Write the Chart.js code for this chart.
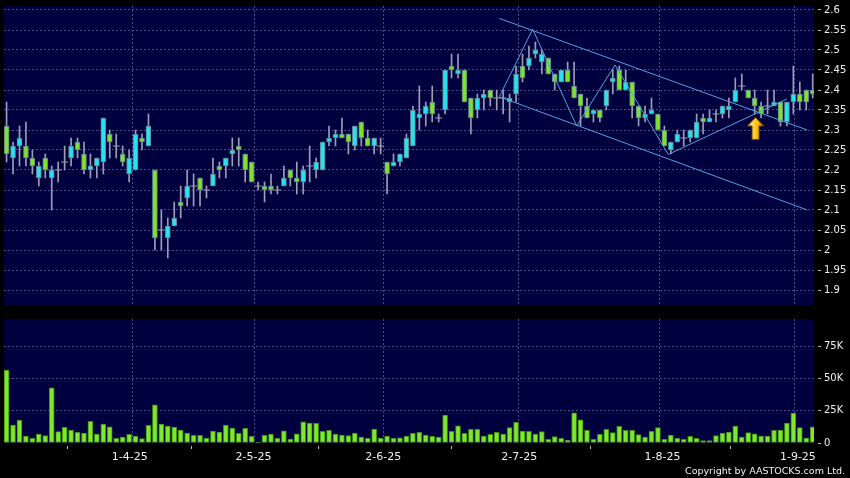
<!DOCTYPE html>
<html>
<head>
<meta charset="utf-8">
<title>Candlestick chart</title>
<script src="https://cdn.jsdelivr.net/npm/chart.js@4.4.1/dist/chart.umd.min.js"></script>
<style>
  html, body { margin: 0; padding: 0; background: #000; }
  #wrap { position: relative; width: 850px; height: 478px; overflow: hidden; background: #000; }
  #priceChart { position: absolute; left: 0; top: 0; }
  #volumeChart { position: absolute; left: 0; top: 310px; }
  #copy { position: absolute; right: 5px; top: 465px; font: 9.5px "DejaVu Sans"; color: #f0f0f0; white-space: nowrap; }
</style>
</head>
<body>
<div id="wrap">
  <canvas id="priceChart" width="850" height="310"></canvas>
  <canvas id="volumeChart" width="850" height="168"></canvas>
  <div id="copy">Copyright by AASTOCKS.com Ltd.</div>
</div>
<script>
// daily candles (126 sessions, Mar - early Sep 2025)
const opens = [
  2.31, 2.23, 2.26, 2.26, 2.23, 2.18, 2.23, 2.18, 2.20, 2.22,
  2.23, 2.27, 2.24, 2.20, 2.21, 2.22, 2.29, 2.26, 2.24, 2.19,
  2.20, 2.28, 2.26, 2.20, 2.05, 2.03, 2.06, 2.12, 2.13, 2.16,
  2.18, 2.15, 2.16, 2.21, 2.21, 2.24, 2.26, 2.24, 2.22, 2.16,
  2.16, 2.16, 2.15, 2.16, 2.20, 2.18, 2.17, 2.21, 2.20, 2.20,
  2.27, 2.28, 2.29, 2.29, 2.26, 2.32, 2.28, 2.26, 2.26, 2.22,
  2.21, 2.22, 2.23, 2.26, 2.33, 2.34, 2.37, 2.33, 2.35, 2.46,
  2.44, 2.45, 2.38, 2.35, 2.38, 2.40, 2.38, 2.38, 2.37, 2.39,
  2.46, 2.46, 2.49, 2.47, 2.48, 2.44, 2.42, 2.45, 2.41, 2.39,
  2.36, 2.34, 2.35, 2.36, 2.42, 2.45, 2.40, 2.42, 2.36, 2.33,
  2.34, 2.34, 2.30, 2.25, 2.27, 2.28, 2.28, 2.28, 2.33, 2.32,
  2.34, 2.34, 2.35, 2.37, 2.41, 2.40, 2.38, 2.36, 2.36, 2.36,
  2.37, 2.32, 2.37, 2.39, 2.40, 2.40
];
const highs = [
  2.37, 2.27, 2.31, 2.32, 2.25, 2.22, 2.24, 2.21, 2.22, 2.26,
  2.28, 2.28, 2.27, 2.24, 2.23, 2.33, 2.30, 2.29, 2.26, 2.25,
  2.30, 2.29, 2.34, 2.20, 2.10, 2.08, 2.12, 2.16, 2.20, 2.19,
  2.18, 2.16, 2.23, 2.22, 2.23, 2.28, 2.28, 2.24, 2.22, 2.17,
  2.17, 2.19, 2.16, 2.21, 2.20, 2.22, 2.21, 2.26, 2.23, 2.27,
  2.31, 2.30, 2.33, 2.29, 2.31, 2.32, 2.30, 2.28, 2.28, 2.22,
  2.24, 2.24, 2.29, 2.36, 2.41, 2.37, 2.41, 2.34, 2.45, 2.49,
  2.49, 2.45, 2.38, 2.39, 2.40, 2.40, 2.40, 2.40, 2.39, 2.46,
  2.49, 2.51, 2.52, 2.50, 2.48, 2.44, 2.45, 2.47, 2.47, 2.39,
  2.38, 2.35, 2.35, 2.40, 2.45, 2.46, 2.45, 2.42, 2.36, 2.36,
  2.38, 2.34, 2.31, 2.27, 2.30, 2.30, 2.30, 2.34, 2.34, 2.35,
  2.35, 2.36, 2.38, 2.43, 2.44, 2.40, 2.40, 2.37, 2.40, 2.40,
  2.37, 2.37, 2.46, 2.42, 2.40, 2.44
];
const lows = [
  2.22, 2.19, 2.21, 2.21, 2.19, 2.16, 2.18, 2.10, 2.17, 2.20,
  2.21, 2.23, 2.19, 2.18, 2.18, 2.19, 2.23, 2.23, 2.21, 2.17,
  2.20, 2.25, 2.26, 2.00, 2.00, 1.98, 2.06, 2.08, 2.11, 2.11,
  2.11, 2.13, 2.16, 2.18, 2.18, 2.21, 2.21, 2.17, 2.17, 2.15,
  2.12, 2.14, 2.14, 2.16, 2.16, 2.14, 2.14, 2.17, 2.18, 2.20,
  2.26, 2.26, 2.28, 2.24, 2.25, 2.26, 2.26, 2.24, 2.24, 2.14,
  2.21, 2.21, 2.23, 2.26, 2.30, 2.31, 2.32, 2.32, 2.34, 2.43,
  2.43, 2.37, 2.29, 2.33, 2.35, 2.36, 2.35, 2.34, 2.32, 2.37,
  2.42, 2.45, 2.48, 2.44, 2.44, 2.40, 2.42, 2.42, 2.38, 2.31,
  2.33, 2.32, 2.32, 2.35, 2.39, 2.40, 2.40, 2.33, 2.31, 2.32,
  2.34, 2.30, 2.26, 2.24, 2.27, 2.26, 2.27, 2.28, 2.29, 2.32,
  2.32, 2.33, 2.33, 2.37, 2.40, 2.38, 2.34, 2.33, 2.34, 2.36,
  2.31, 2.31, 2.34, 2.35, 2.35, 2.38
];
const closes = [
  2.24, 2.26, 2.28, 2.23, 2.21, 2.21, 2.20, 2.20, 2.20, 2.22,
  2.26, 2.25, 2.20, 2.21, 2.23, 2.33, 2.27, 2.26, 2.22, 2.23,
  2.29, 2.27, 2.31, 2.03, 2.05, 2.06, 2.08, 2.11, 2.16, 2.16,
  2.15, 2.15, 2.19, 2.20, 2.23, 2.25, 2.25, 2.20, 2.17, 2.16,
  2.15, 2.15, 2.15, 2.18, 2.18, 2.17, 2.20, 2.21, 2.22, 2.27,
  2.28, 2.29, 2.28, 2.27, 2.31, 2.28, 2.26, 2.28, 2.26, 2.19,
  2.22, 2.24, 2.28, 2.35, 2.34, 2.36, 2.34, 2.33, 2.45, 2.45,
  2.45, 2.37, 2.33, 2.38, 2.39, 2.38, 2.38, 2.38, 2.38, 2.44,
  2.43, 2.48, 2.50, 2.49, 2.44, 2.42, 2.45, 2.42, 2.38, 2.36,
  2.33, 2.35, 2.33, 2.40, 2.43, 2.40, 2.42, 2.36, 2.33, 2.34,
  2.35, 2.30, 2.26, 2.27, 2.29, 2.28, 2.30, 2.32, 2.32, 2.33,
  2.34, 2.36, 2.36, 2.40, 2.41, 2.38, 2.36, 2.34, 2.36, 2.37,
  2.32, 2.37, 2.39, 2.37, 2.37, 2.39
];
const volumes = [
  56500, 13900, 17800, 5400, 3600, 7000, 5700, 42800, 8800, 12100,
  10000, 8300, 7700, 16800, 7000, 14700, 12600, 3600, 4600, 6700,
  5400, 3400, 13700, 29700, 14700, 13200, 12400, 10000, 7700, 5900,
  5900, 3900, 9300, 8500, 13900, 11600, 7500, 11400, 5200, 800,
  5900, 7000, 3600, 9500, 3100, 7200, 16500, 15500, 15200, 9000,
  9800, 7000, 6200, 5700, 7700, 4600, 3600, 10800, 3900, 5400,
  3600, 4100, 5400, 7500, 8300, 6200, 5200, 4600, 21700, 9000,
  13400, 7500, 10600, 10600, 5400, 6700, 8300, 7000, 11900, 16000,
  9300, 9000, 7000, 8800, 2800, 4900, 3600, 2300, 23500, 18000,
  9800, 2800, 6700, 10600, 8000, 12900, 9800, 9800, 6500, 4600,
  9000, 11900, 2800, 6200, 3600, 2800, 5200, 3600, 1800, 1800,
  5700, 7700, 8500, 13200, 4600, 8000, 7200, 5400, 5400, 9800,
  10000, 15500, 23200, 11900, 3900, 12600
];

// month marks on the session axis
const monthLabels = ['1-4-25', '2-5-25', '2-6-25', '2-7-25', '1-8-25', '1-9-25'];
const monthLabelPos = [20.1, 39.3, 59.4, 80.5, 102.7, 123.7];
const monthGridPos = [20.5, 39.4, 59.4, 80.4, 102.2, 123.1];
const priceTicks = [1.9, 1.95, 2, 2.05, 2.1, 2.15, 2.2, 2.25, 2.3, 2.35, 2.4, 2.45, 2.5, 2.55, 2.6];
const volumeTicks = [0, 25000, 50000, 75000];

// trend lines drawn on the chart (session index, price)
const upperChannel = [{x: 77.4, y: 2.579}, {x: 125.16, y: 2.30}];
const lowerChannel = [{x: 77.4, y: 2.383}, {x: 125.16, y: 2.10}];
const zigzag = [
  {x: 77.4, y: 2.383}, {x: 82.58, y: 2.552}, {x: 89.4, y: 2.31},
  {x: 95.35, y: 2.4625}, {x: 103.6, y: 2.239}, {x: 122.0, y: 2.3775}
];
const arrowMark = [{x: 117.13, y: 2.304}];

const X_MIN = 0.6, X_MAX = 126.2;
const UP = '#27e3f0', DOWN = '#7ee32a', WICK = '#9d9db4';
const GRID = '#4b4b85', LINE = '#4aa6e2', TEXT = '#f0f0f0';

const plotBg = {
  id: 'plotBg',
  beforeDraw(chart) {
    const { ctx, chartArea: a } = chart;
    ctx.save();
    ctx.fillStyle = '#00003f';
    ctx.fillRect(a.left, a.top, a.right - a.left, a.bottom - a.top);
    ctx.restore();
  }
};

// yellow up arrow used as a point style
function makeArrow() {
  const c = document.createElement('canvas');
  c.width = 17; c.height = 23;
  const g = c.getContext('2d');
  const grad = g.createLinearGradient(0, 0, 17, 0);
  grad.addColorStop(0, '#fff3a8');
  grad.addColorStop(0.5, '#ffc81e');
  grad.addColorStop(1, '#d08a00');
  g.beginPath();
  g.moveTo(8.5, 0.5);
  g.lineTo(16.5, 9);
  g.lineTo(12, 9);
  g.lineTo(12, 22.5);
  g.lineTo(5, 22.5);
  g.lineTo(5, 9);
  g.lineTo(0.5, 9);
  g.closePath();
  g.fillStyle = grad;
  g.fill();
  g.strokeStyle = '#7a4d00';
  g.lineWidth = 1;
  g.stroke();
  return c;
}

const wickData = [], bodyData = [], bodyColors = [], dojiData = [];
opens.forEach((o, i) => {
  const c = closes[i];
  wickData.push({ x: i + 1, y: [lows[i], highs[i]] });
  if (o === c) {
    dojiData.push({ x: i + 1, y: c });
  } else {
    bodyData.push({ x: i + 1, y: [o, c] });
    bodyColors.push(c > o ? UP : DOWN);
  }
});

// right-hand axes: fixed width, no extra room for half labels
function fixWidth(scale) {
  scale.width = 36;
  scale.paddingTop = 0;
  scale.paddingBottom = 0;
}
function noHeight(scale) {
  scale.height = 0;
  scale.paddingLeft = 0;
  scale.paddingRight = 0;
}

new Chart(document.getElementById('priceChart'), {
  type: 'bar',
  data: {
    datasets: [
      { type: 'line', data: upperChannel, borderColor: LINE, borderWidth: 1, pointRadius: 0, order: 0 },
      { type: 'line', data: lowerChannel, borderColor: LINE, borderWidth: 1, pointRadius: 0, order: 0 },
      { type: 'line', data: zigzag, borderColor: LINE, borderWidth: 1, pointRadius: 0, order: 0 },
      { type: 'scatter', data: arrowMark, pointStyle: makeArrow(), pointRadius: 10, order: 0 },
      { type: 'scatter', data: dojiData, pointStyle: 'line', pointRadius: 3.5,
        borderColor: WICK, borderWidth: 1, order: 1 },
      { type: 'bar', data: bodyData, backgroundColor: bodyColors, borderColor: '#5c7f92',
        borderWidth: 1, borderSkipped: false, barThickness: 5, grouped: false, order: 2 },
      { type: 'bar', data: wickData, backgroundColor: WICK, barThickness: 1, grouped: false, order: 3 }
    ]
  },
  options: {
    responsive: false,
    animation: false,
    layout: { autoPadding: false, padding: { left: 4, top: 6, bottom: 5, right: 0 } },
    plugins: { legend: { display: false }, tooltip: { enabled: false } },
    scales: {
      x: {
        type: 'linear', min: X_MIN, max: X_MAX, offset: false,
        afterBuildTicks: s => { s.ticks = monthGridPos.map(v => ({ value: v })); },
        afterFit: noHeight,
        ticks: { display: false },
        grid: { color: GRID, drawTicks: false, offset: false },
        border: { display: false, dash: [2, 2] }
      },
      y: {
        position: 'right', min: 1.8625, max: 2.61,
        afterBuildTicks: s => { s.ticks = priceTicks.map(v => ({ value: v })); },
        afterFit: fixWidth,
        ticks: { color: TEXT, padding: 3, font: { family: 'DejaVu Sans', size: 10 },
                 callback: v => String(+v.toFixed(2)) },
        grid: { color: GRID, tickColor: '#bbbbbb', tickLength: 7, tickBorderDash: [0, 4, 3, 20] },
        border: { display: false, dash: [2, 2] }
      }
    }
  },
  plugins: [plotBg]
});

new Chart(document.getElementById('volumeChart'), {
  type: 'bar',
  data: {
    datasets: [{
      data: volumes.map((v, i) => ({ x: i + 1, y: v })),
      backgroundColor: '#7ee82a', borderColor: '#3f8a18', borderWidth: 1,
      borderSkipped: false, barThickness: 5
    }]
  },
  options: {
    responsive: false,
    animation: false,
    layout: { autoPadding: false, padding: { left: 4, top: 9, bottom: 0, right: 0 } },
    plugins: { legend: { display: false }, tooltip: { enabled: false } },
    scales: {
      x: {
        type: 'linear', min: X_MIN, max: X_MAX, offset: false,
        afterBuildTicks: s => { s.ticks = monthGridPos.map(v => ({ value: v })); },
        afterFit: noHeight,
        ticks: { display: false },
        grid: { color: GRID, drawTicks: false, offset: false },
        border: { display: false, dash: [2, 2] }
      },
      xl: {
        type: 'linear', position: 'bottom', min: X_MIN, max: X_MAX, offset: false,
        afterBuildTicks: s => { s.ticks = monthLabelPos.map(v => ({ value: v })); },
        afterFit: s => { s.height = 35; s.paddingLeft = 0; s.paddingRight = 0; },
        ticks: { color: TEXT, padding: 2, autoSkip: false, maxRotation: 0,
                 font: { family: 'DejaVu Sans', size: 11 },
                 callback: (v, i) => monthLabels[i] },
        grid: { drawOnChartArea: false, tickColor: '#bbbbbb', tickLength: 6, tickBorderDash: [0, 3, 3, 20] },
        border: { display: false }
      },
      y: {
        position: 'right', min: 0, max: 96200,
        afterBuildTicks: s => { s.ticks = volumeTicks.map(v => ({ value: v })); },
        afterFit: fixWidth,
        ticks: { color: TEXT, padding: 3, font: { family: 'DejaVu Sans', size: 10 },
                 callback: v => v === 0 ? '0' : (v / 1000) + 'K' },
        grid: { color: c => c.tick && c.tick.value === 0 ? 'rgba(0,0,0,0)' : GRID,
                tickColor: '#bbbbbb', tickLength: 7, tickBorderDash: [0, 4, 3, 20] },
        border: { display: false, dash: [2, 2] }
      }
    }
  },
  plugins: [plotBg]
});
</script>
</body>
</html>
